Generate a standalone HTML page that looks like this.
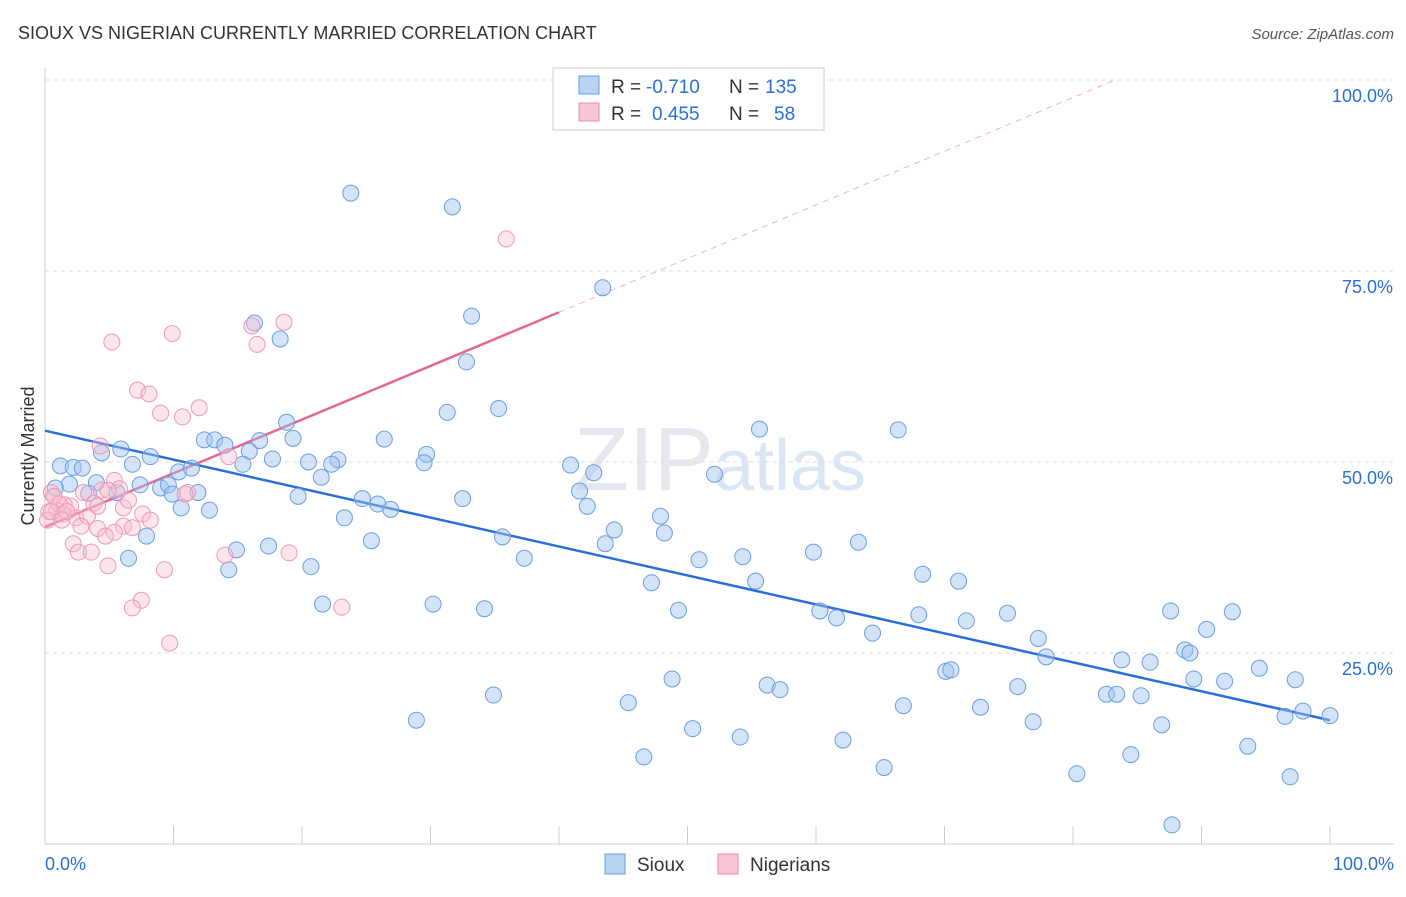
<!DOCTYPE html>
<html><head><meta charset="utf-8"><style>
body{margin:0;background:#fff;font-family:"Liberation Sans",sans-serif;}
svg text{font-family:"Liberation Sans",sans-serif;}
</style></head><body>
<svg id="chart" width="1406" height="892" viewBox="0 0 1406 892" xmlns="http://www.w3.org/2000/svg">
<text x="18" y="39" font-size="18" fill="#333">SIOUX VS NIGERIAN CURRENTLY MARRIED CORRELATION CHART</text>
<text x="1394" y="39" font-size="15" fill="#555" text-anchor="end" font-style="italic">Source: ZipAtlas.com</text>
<text x="720" y="490" font-size="90" fill="#e4e8ee" text-anchor="middle" font-family="Liberation Serif">ZIP<tspan fill="#dbe6f5" font-family="Liberation Sans" font-size="72">atlas</tspan></text>
<text transform="translate(34,456) rotate(-90)" font-size="18" fill="#333" text-anchor="middle">Currently Married</text>
<g id="grid"></g><g id="axes"></g><g id="lines"></g><g id="pts"></g>
<g>
<rect x="553" y="68" width="271" height="62" fill="#fff" stroke="#ccc"/>
<rect x="579" y="76" width="20" height="18" fill="#b9d3f5" stroke="#6a9ee0"/>
<rect x="579" y="103" width="20" height="18" fill="#f8c6d6" stroke="#e88aa8"/>
<text x="611" y="93" font-size="19" fill="#333">R =</text>
<text x="646" y="93" font-size="19" fill="#2a6fd6">-0.710</text>
<text x="729" y="93" font-size="19" fill="#333">N =</text>
<text x="765" y="93" font-size="19" fill="#2a6fd6">135</text>
<text x="611" y="120" font-size="19" fill="#333">R =</text>
<text x="652" y="120" font-size="19" fill="#2a6fd6">0.455</text>
<text x="729" y="120" font-size="19" fill="#333">N =</text>
<text x="774" y="120" font-size="19" fill="#2a6fd6">58</text>
</g>
<g>
<rect x="605" y="854" width="20" height="20" fill="#b9d3f5" stroke="#6a9ee0"/>
<text x="637" y="871" font-size="19" fill="#333">Sioux</text>
<rect x="718" y="854" width="20" height="20" fill="#f8c6d6" stroke="#e88aa8"/>
<text x="750" y="871" font-size="19" fill="#333">Nigerians</text>
</g>
</svg>
<script>
const yTicks=[25,50,75,100];
const yTickLabels=["25.0%","50.0%","75.0%","100.0%"];
const xTickLabels=["0.0%","100.0%"];
const siouxX=[23.8,31.7,43.4,33.2,18.3,16.3,32.8,35.3,31.3,18.8,55.6,66.4,12.4,13.2,16.7,5.9,14.0,19.3,26.4,4.4,8.2,15.9,29.7,1.2,6.8,2.2,2.9,20.5,22.8,22.3,15.4,17.7,29.5,40.9,42.7,52.1,10.4,11.4,1.9,4.0,0.8,7.4,9.0,9.6,11.9,5.6,9.9,3.4,41.6,24.7,32.5,19.7,21.5,25.9,26.9,42.2,10.6,12.8,23.3,47.9,35.6,44.3,48.2,43.6,25.4,7.9,14.9,17.4,37.3,50.9,54.3,59.8,63.3,6.5,14.3,20.7,47.2,55.3,68.3,71.1,21.6,30.2,34.2,49.3,60.3,61.6,68.0,74.9,87.6,92.4,71.7,64.4,90.4,77.3,77.9,88.7,83.8,89.1,86.0,70.1,70.5,94.5,89.4,91.8,97.3,48.8,34.9,56.2,57.2,75.7,82.6,83.4,85.3,45.4,66.8,72.8,97.9,100.0,28.9,76.9,96.5,50.4,86.9,54.1,62.1,93.6,84.5,46.6,65.3,80.3,96.9,87.7];
const siouxY=[85.2,83.4,72.8,69.1,66.1,68.2,63.1,57.0,56.5,55.2,54.3,54.2,52.9,52.9,52.8,51.7,52.2,53.1,53.0,51.2,50.7,51.4,51.0,49.5,49.7,49.3,49.2,50.0,50.3,49.7,49.7,50.4,49.9,49.6,48.6,48.4,48.7,49.2,47.1,47.3,46.6,47.0,46.6,47.0,46.0,46.0,45.8,45.9,46.2,45.2,45.2,45.5,48.0,44.5,43.8,44.2,44.0,43.7,42.7,42.9,40.2,41.1,40.7,39.3,39.7,40.3,38.5,39.0,37.4,37.2,37.6,38.2,39.5,37.4,35.9,36.3,34.2,34.4,35.3,34.4,31.4,31.4,30.8,30.6,30.5,29.6,30.0,30.2,30.5,30.4,29.2,27.6,28.1,26.9,24.5,25.4,24.1,25.0,23.8,22.6,22.8,23.0,21.6,21.3,21.5,21.6,19.5,20.8,20.2,20.6,19.6,19.6,19.4,18.5,18.1,17.9,17.4,16.8,16.2,16.0,16.7,15.1,15.6,14.0,13.6,12.8,11.7,11.4,10.0,9.2,8.8,2.5];
const nigX=[35.9,18.6,16.1,5.2,9.9,16.5,7.2,8.1,9.0,12.0,10.7,4.3,14.3,5.4,0.5,4.4,5.8,3.0,4.9,11.1,0.7,1.5,3.8,2.0,0.9,0.3,1.4,0.2,2.4,3.3,6.1,6.5,7.6,8.2,4.1,2.8,6.1,5.4,4.7,6.8,2.2,2.6,3.6,4.9,9.3,14.0,19.0,7.5,6.8,23.1,9.7,0.7,1.1,0.5,10.9,4.1,1.3,1.7];
const nigY=[79.2,68.3,67.8,65.7,66.8,65.4,59.4,58.9,56.4,57.1,55.9,52.1,50.7,47.6,46.0,46.3,46.5,46.0,46.3,46.0,45.5,44.4,44.6,44.2,43.7,43.5,43.2,42.4,42.7,42.9,44.0,45.0,43.2,42.4,41.3,41.6,41.6,40.8,40.3,41.4,39.3,38.2,38.2,36.4,35.9,37.8,38.1,31.9,30.9,31.0,26.3,45.5,44.5,43.5,45.8,44.2,42.4,43.5];
const blueLine=[54.1,16.2]; // y% at x=0 and x=100
const pinkLine=[41.5,69.6]; // y% at x=0 and x=40
const NS='http://www.w3.org/2000/svg';
const X=v=>45+v*12.85, Y=v=>844-v*7.64;
function mk(t,a,p){const e=document.createElementNS(NS,t);for(const k in a)e.setAttribute(k,a[k]);p.appendChild(e);return e;}
const grid=document.getElementById('grid'),axes=document.getElementById('axes');
yTicks.forEach((t,i)=>{
 const l=mk('line',{x1:45,x2:1394,y1:Y(t),y2:Y(t),stroke:'#ddd','stroke-dasharray':'4,4'},grid);
 
 
 const tx=mk('text',{x:1393,y:Y(t)+22,'font-size':18,fill:'#2a6fd6','text-anchor':'end'},axes);
 tx.textContent=yTickLabels[i];
 
 
});
const ax=mk('line',{x1:45,x2:1394,y1:844,y2:844,stroke:'#ccc'},axes);


const ay=mk('line',{x1:45,x2:45,y1:68,y2:844,stroke:'#ccc'},axes);


for(let i=0;i<=10;i++){
 const t=mk('line',{x1:X(i*10),x2:X(i*10),y1:826,y2:844,stroke:'#ccc'},axes);
 
 
}
[[0,'start',45],[100,'end',1394]].forEach((d,i)=>{
 const tx=mk('text',{x:d[2],y:870,'font-size':18,fill:'#2a6fd6','text-anchor':d[1]},axes);
 tx.textContent=xTickLabels[i];
 
 
});
const pts=document.getElementById('pts'),lines=document.getElementById('lines');
siouxX.forEach((x,i)=>{
 const c=mk('circle',{cx:X(x),cy:Y(siouxY[i]),r:8,fill:'rgba(160,196,240,0.45)',stroke:'#6a9ee0','stroke-width':1},pts);
 
 
});
nigX.forEach((x,i)=>{
 const c=mk('circle',{cx:X(x),cy:Y(nigY[i]),r:8,fill:'rgba(248,190,210,0.4)',stroke:'#ec9ab4','stroke-width':1},pts);
 
 
});
const slope=(pinkLine[1]-pinkLine[0])/40;
const xEnd=(100-pinkLine[0])/slope;
const dash=mk('line',{x1:X(40),y1:Y(pinkLine[1]),x2:X(xEnd),y2:Y(100),stroke:'#eeb3c6','stroke-dasharray':'6,5'},lines);


const pl=mk('line',{x1:X(0),y1:Y(pinkLine[0]),x2:X(40),y2:Y(pinkLine[1]),stroke:'#e8668f','stroke-width':2.5},lines);


const bl=mk('line',{x1:X(0),y1:Y(blueLine[0]),x2:X(100),y2:Y(blueLine[1]),stroke:'#2a6fd6','stroke-width':2.5},lines);


</script>
</body></html>
